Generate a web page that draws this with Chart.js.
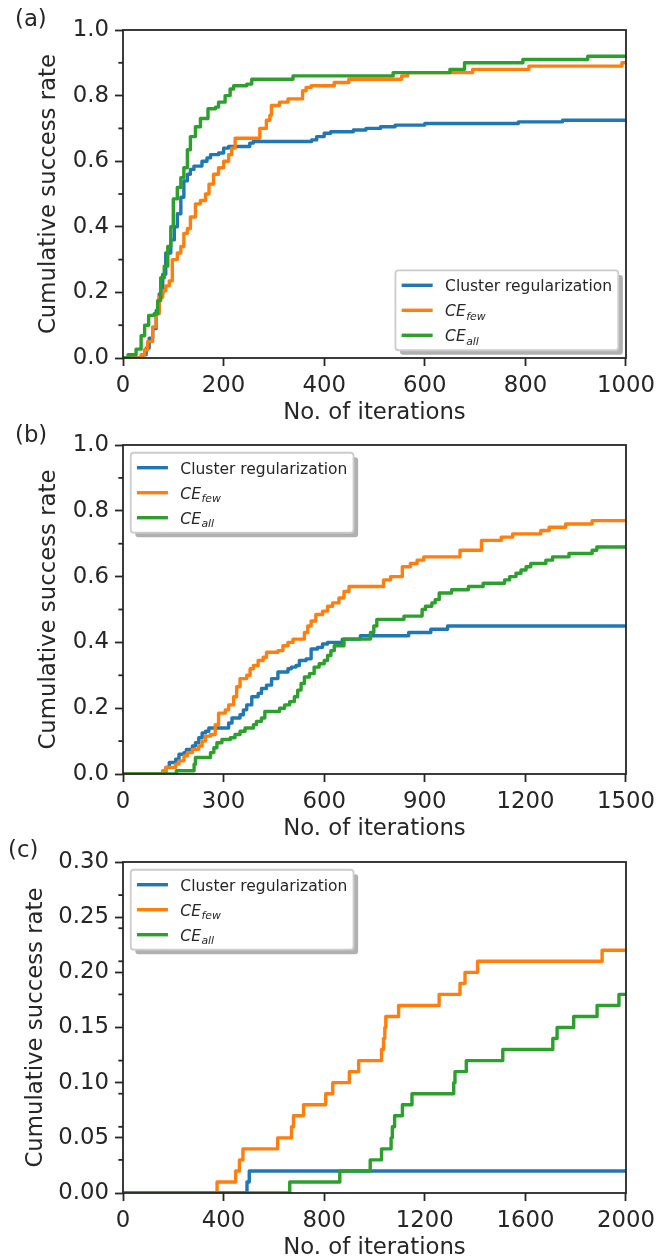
<!DOCTYPE html>
<html><head><meta charset="utf-8">
<script src="https://cdn.jsdelivr.net/npm/chart.js@4.4.0/dist/chart.umd.min.js"></script>
<style>
html,body{margin:0;padding:0;background:#fff;}
#wrap{position:relative;width:661px;height:1256px;overflow:hidden;background:#fff;}
canvas{position:absolute;left:0;}
</style></head><body>
<div id="wrap">
<canvas id="ca" width="661" height="440" style="top:0px;width:661px;height:440px"></canvas>
<canvas id="cb" width="661" height="440" style="top:420px;width:661px;height:440px"></canvas>
<canvas id="cc" width="661" height="440" style="top:835px;width:661px;height:440px"></canvas>
</div>
<script>
// ---------- data ----------
const seriesNames = ['Cluster regularization', 'CE', 'CE'];
const seriesSubs  = ['', 'few', 'all'];
const seriesColors = ['#1f77b4', '#ff7f0e', '#2ca02c'];
const xTitle = 'No. of iterations';
const yTitle = 'Cumulative success rate';
const panelNames = ['(a)', '(b)', '(c)'];

// panel (a)
const aXTicks = [0, 200, 400, 600, 800, 1000];
const aYTicks = [0, 0.2, 0.4, 0.6, 0.8, 1.0];
const aYMinor = [0.1, 0.3, 0.5, 0.7, 0.9];
const aBlueX = [0, 33, 39, 46, 52, 59, 66, 72, 79, 85, 95, 102, 108, 115, 121, 128, 134, 141, 157, 167, 174, 190, 200, 210, 252, 259, 375, 385, 400, 413, 458, 483, 512, 541, 600, 786, 874, 1000];
const aBlueY = [0, 0, 0.01, 0.03, 0.06, 0.09, 0.145, 0.195, 0.255, 0.32, 0.36, 0.40, 0.44, 0.49, 0.54, 0.56, 0.575, 0.585, 0.60, 0.61, 0.62, 0.625, 0.64, 0.645, 0.655, 0.66, 0.665, 0.675, 0.685, 0.69, 0.695, 0.70, 0.705, 0.71, 0.715, 0.72, 0.725, 0.725];
const aOrangeX = [0, 26, 36, 43, 49, 59, 66, 72, 79, 85, 92, 98, 108, 115, 121, 128, 134, 144, 154, 164, 171, 180, 190, 200, 210, 216, 223, 272, 285, 292, 295, 311, 328, 357, 364, 374, 420, 449, 554, 566, 695, 807, 992, 1000];
const aOrangeY = [0, 0, 0.01, 0.025, 0.05, 0.095, 0.135, 0.185, 0.205, 0.22, 0.235, 0.30, 0.32, 0.34, 0.38, 0.395, 0.43, 0.47, 0.48, 0.50, 0.53, 0.56, 0.58, 0.60, 0.62, 0.64, 0.67, 0.70, 0.725, 0.74, 0.77, 0.78, 0.79, 0.815, 0.825, 0.83, 0.84, 0.85, 0.86, 0.87, 0.88, 0.89, 0.90, 0.90];
const aGreenX = [0, 10, 26, 36, 43, 51, 62, 69, 75, 82, 89, 95, 100, 108, 115, 121, 128, 134, 144, 154, 169, 184, 190, 203, 213, 220, 246, 256, 338, 537, 650, 679, 795, 924, 1000];
const aGreenY = [0, 0.01, 0.027, 0.068, 0.10, 0.13, 0.135, 0.175, 0.245, 0.28, 0.34, 0.40, 0.485, 0.52, 0.55, 0.58, 0.635, 0.675, 0.705, 0.73, 0.76, 0.765, 0.78, 0.80, 0.82, 0.83, 0.835, 0.85, 0.86, 0.87, 0.88, 0.90, 0.91, 0.92, 0.92];

// panel (b)
const bXTicks = [0, 300, 600, 900, 1200, 1500];
const bYTicks = [0, 0.2, 0.4, 0.6, 0.8, 1.0];
const bYMinor = [0.1, 0.3, 0.5, 0.7, 0.9];
const bBlueX = [0, 128, 138, 157, 167, 182, 189, 207, 216, 226, 236, 246, 256, 315, 325, 349, 359, 369, 384, 403, 413, 428, 443, 462, 492, 502, 516, 526, 546, 561, 580, 595, 610, 654, 708, 852, 918, 968, 1500];
const bBlueY = [0, 0.02, 0.035, 0.045, 0.06, 0.065, 0.075, 0.085, 0.095, 0.11, 0.125, 0.13, 0.14, 0.155, 0.17, 0.18, 0.195, 0.21, 0.235, 0.245, 0.26, 0.27, 0.29, 0.31, 0.32, 0.325, 0.33, 0.345, 0.35, 0.38, 0.385, 0.395, 0.40, 0.41, 0.42, 0.43, 0.44, 0.45, 0.45];
const bOrangeX = [0, 118, 128, 157, 167, 182, 192, 207, 226, 236, 246, 261, 275, 285, 305, 315, 330, 339, 349, 369, 379, 389, 403, 418, 428, 462, 477, 492, 507, 541, 551, 561, 575, 595, 610, 625, 644, 659, 674, 777, 798, 833, 857, 877, 897, 1005, 1069, 1128, 1162, 1246, 1271, 1320, 1399, 1500];
const bOrangeY = [0, 0.01, 0.02, 0.03, 0.04, 0.055, 0.065, 0.075, 0.085, 0.10, 0.115, 0.12, 0.15, 0.185, 0.195, 0.21, 0.235, 0.265, 0.29, 0.30, 0.32, 0.33, 0.345, 0.355, 0.37, 0.375, 0.39, 0.40, 0.41, 0.43, 0.45, 0.465, 0.485, 0.495, 0.51, 0.52, 0.535, 0.555, 0.57, 0.59, 0.60, 0.63, 0.64, 0.65, 0.66, 0.68, 0.71, 0.72, 0.73, 0.74, 0.75, 0.76, 0.77, 0.77];
const bGreenX = [0, 159, 212, 216, 261, 271, 280, 295, 320, 334, 349, 364, 389, 398, 413, 423, 467, 482, 497, 511, 521, 531, 541, 556, 570, 585, 600, 610, 620, 630, 659, 738, 748, 757, 838, 892, 902, 921, 931, 943, 980, 1030, 1074, 1138, 1153, 1172, 1187, 1202, 1216, 1261, 1281, 1330, 1399, 1413, 1500];
const bGreenY = [0, 0.01, 0.03, 0.05, 0.065, 0.08, 0.095, 0.105, 0.11, 0.12, 0.13, 0.14, 0.15, 0.16, 0.17, 0.19, 0.20, 0.21, 0.22, 0.235, 0.255, 0.275, 0.295, 0.305, 0.325, 0.335, 0.345, 0.36, 0.375, 0.39, 0.41, 0.43, 0.45, 0.47, 0.48, 0.50, 0.51, 0.52, 0.53, 0.55, 0.56, 0.57, 0.58, 0.59, 0.60, 0.61, 0.62, 0.63, 0.64, 0.65, 0.66, 0.67, 0.68, 0.69, 0.69];

// panel (c)
const cXTicks = [0, 400, 800, 1200, 1600, 2000];
const cYTicks = [0, 0.05, 0.10, 0.15, 0.20, 0.25, 0.30];
const cYMinor = [0.03, 0.06, 0.09, 0.12, 0.18, 0.21, 0.24, 0.27];
const cBlueX = [0, 493, 502, 2000];
const cBlueY = [0, 0.01, 0.02, 0.02];
const cOrangeX = [0, 374, 448, 463, 477, 615, 670, 678, 718, 806, 834, 900, 937, 1028, 1036, 1041, 1045, 1096, 1257, 1340, 1360, 1410, 1905, 2000];
const cOrangeY = [0, 0.01, 0.02, 0.03, 0.04, 0.05, 0.06, 0.07, 0.08, 0.09, 0.10, 0.11, 0.12, 0.13, 0.14, 0.15, 0.16, 0.17, 0.18, 0.19, 0.20, 0.21, 0.22, 0.22];
const cGreenX = [0, 663, 862, 983, 1028, 1066, 1071, 1080, 1111, 1149, 1315, 1320, 1365, 1510, 1709, 1726, 1792, 1885, 1972, 2000];
const cGreenY = [0, 0.01, 0.02, 0.03, 0.04, 0.05, 0.06, 0.07, 0.08, 0.09, 0.10, 0.11, 0.12, 0.13, 0.14, 0.15, 0.16, 0.17, 0.18, 0.18];

// ---------- drawing ----------
const FONT = "'DejaVu Sans', sans-serif";
const INK = '#262626';
const FS = 22.8;      // 10pt
const LFS = 15.5;     // legend font
const LW = 3.4;

function pts(xs, ys) { return xs.map((x, i) => ({ x: x, y: ys[i] })); }

const framePlugin = {
  id: 'frame',
  afterDatasetsDraw(chart, args, o) {
    const ctx = chart.ctx, a = chart.chartArea, sc = chart.scales.y;
    ctx.save();
    ctx.strokeStyle = INK; ctx.lineWidth = 1.8;
    (o.minorY || []).forEach(v => {
      const p = sc.getPixelForValue(v);
      ctx.beginPath(); ctx.moveTo(a.left - 4.6, p); ctx.lineTo(a.left, p); ctx.stroke();
    });
    ctx.strokeRect(a.left, a.top, a.right - a.left, a.bottom - a.top);
    ctx.restore();
  }
};

function labelWidth(ctx, name, sub) {
  if (!sub) { ctx.font = `${LFS}px ${FONT}`; return ctx.measureText(name).width; }
  ctx.font = `italic ${LFS}px ${FONT}`; const w1 = ctx.measureText(name).width;
  ctx.font = `italic ${LFS * 0.7}px ${FONT}`; const w2 = ctx.measureText(sub).width;
  return w1 + w2 + 1;
}
function drawLabel(ctx, name, sub, x, cy) {
  ctx.fillStyle = INK; ctx.textBaseline = 'alphabetic'; ctx.textAlign = 'left';
  const base = cy + 6;
  if (!sub) { ctx.font = `${LFS}px ${FONT}`; ctx.fillText(name, x, base); return; }
  ctx.font = `italic ${LFS}px ${FONT}`; ctx.fillText(name, x, base);
  const w1 = ctx.measureText(name).width;
  ctx.font = `italic ${LFS * 0.7}px ${FONT}`; ctx.fillText(sub, x + w1 + 0.5, base + 3.5);
}

const legendPlugin = {
  id: 'mplLegend',
  afterDraw(chart, args, o) {
    const ctx = chart.ctx, a = chart.chartArea;
    const bpad = 0.4 * LFS, hl = 2 * LFS, htp = 0.8 * LFS, axpad = 0.5 * LFS;
    const rowH = 17.5, pitch = 25;
    ctx.save();
    const tw = Math.max(...seriesNames.map((n, i) => labelWidth(ctx, n, seriesSubs[i])));
    const W = 2 * bpad + hl + htp + tw;
    const H = 2 * bpad + 3 * rowH + 2 * (pitch - rowH);
    let left, top;
    if (o.loc === 'lower right') { left = a.right - axpad - W; top = a.bottom - axpad - H; }
    else { left = a.left + axpad; top = a.top + axpad; }
    const sh = 4.6;
    ctx.beginPath(); ctx.roundRect(left + sh, top + sh, W, H, 3);
    ctx.fillStyle = '#b0b0b0'; ctx.fill();
    ctx.beginPath(); ctx.roundRect(left, top, W, H, 3);
    ctx.fillStyle = '#ffffff'; ctx.fill();
    ctx.strokeStyle = '#cccccc'; ctx.lineWidth = 1.8; ctx.stroke();
    for (let i = 0; i < seriesNames.length; i++) {
      const cy = top + bpad + rowH / 2 + i * pitch;
      ctx.beginPath(); ctx.strokeStyle = seriesColors[i]; ctx.lineWidth = LW;
      ctx.moveTo(left + bpad, cy); ctx.lineTo(left + bpad + hl, cy); ctx.stroke();
      drawLabel(ctx, seriesNames[i], seriesSubs[i], left + bpad + hl + htp, cy);
    }
    ctx.restore();
  }
};

const panelLabelPlugin = {
  id: 'panelLabel',
  afterDraw(chart, args, o) {
    const ctx = chart.ctx;
    ctx.save();
    ctx.font = `${FS}px ${FONT}`; ctx.fillStyle = INK;
    ctx.textBaseline = 'middle'; ctx.textAlign = 'left';
    ctx.fillText(o.text, o.x, o.y);
    ctx.restore();
  }
};

function makePanel(id, cfg) {
  const H = 440;
  const ds = [
    { data: pts(cfg.bx, cfg.by), borderColor: seriesColors[0], order: 3 },
    { data: pts(cfg.ox, cfg.oy), borderColor: seriesColors[1], order: 2 },
    { data: pts(cfg.gx, cfg.gy), borderColor: seriesColors[2], order: 1 }
  ].map(d => Object.assign(d, { borderWidth: LW, pointRadius: 0, stepped: true, fill: false, tension: 0, borderJoinStyle: 'round', borderCapStyle: 'butt' }));
  const xt = cfg.xTicks, yt = cfg.yTicks;
  return new Chart(document.getElementById(id), {
    type: 'line',
    data: { datasets: ds },
    plugins: [framePlugin, legendPlugin, panelLabelPlugin],
    options: {
      responsive: false, maintainAspectRatio: false, animation: false, devicePixelRatio: 1,
      layout: { padding: { top: cfg.top, right: 30, left: 0, bottom: 0 } },
      plugins: {
        legend: { display: false }, tooltip: { enabled: false },
        frame: { minorY: cfg.minorY },
        mplLegend: { loc: cfg.legendLoc },
        panelLabel: { text: cfg.label, x: cfg.labelX, y: cfg.labelY }
      },
      scales: {
        x: {
          type: 'linear', min: xt[0], max: xt[xt.length - 1],
          afterBuildTicks: s => { s.ticks = xt.map(v => ({ value: v })); },
          ticks: { autoSkip: false, maxRotation: 0, padding: 6, color: INK, font: { family: FONT, size: FS }, callback: v => String(v) },
          grid: { display: true, drawOnChartArea: false, drawTicks: true, tickLength: 8, tickWidth: 1.8, tickColor: INK, color: INK },
          border: { display: false },
          title: { display: true, text: xTitle, color: INK, font: { family: FONT, size: FS, lineHeight: 1.2 }, padding: { top: 0, bottom: H - (cfg.top + cfg.plotH) - cfg.xTitleOff - FS * 0.6 } },
          afterFit: s => { s.height = H - cfg.top - cfg.plotH; }
        },
        y: {
          type: 'linear', min: yt[0], max: yt[yt.length - 1],
          afterBuildTicks: s => { s.ticks = yt.map(v => ({ value: v })); },
          ticks: { autoSkip: false, padding: 6, color: INK, font: { family: FONT, size: FS }, callback: v => v.toFixed(cfg.dec) },
          grid: { display: true, drawOnChartArea: false, drawTicks: true, tickLength: 8, tickWidth: 1.8, tickColor: INK, color: INK },
          border: { display: false },
          title: { display: true, text: yTitle, color: INK, font: { family: FONT, size: FS, lineHeight: 1.2 }, padding: { top: cfg.yTitleX - FS * 0.6, bottom: 0 } },
          afterFit: s => { s.width = 123; }
        }
      }
    }
  });
}

makePanel('ca', { top: 30, plotH: 328, xTicks: aXTicks, yTicks: aYTicks, minorY: aYMinor, dec: 1,
  bx: aBlueX, by: aBlueY, ox: aOrangeX, oy: aOrangeY, gx: aGreenX, gy: aGreenY,
  legendLoc: 'lower right', label: panelNames[0], labelX: 15, labelY: 20, xTitleOff: 55, yTitleX: 49 });
makePanel('cb', { top: 25, plotH: 329, xTicks: bXTicks, yTicks: bYTicks, minorY: bYMinor, dec: 1,
  bx: bBlueX, by: bBlueY, ox: bOrangeX, oy: bOrangeY, gx: bGreenX, gy: bGreenY,
  legendLoc: 'upper left', label: panelNames[1], labelX: 15, labelY: 16, xTitleOff: 55, yTitleX: 49 });
makePanel('cc', { top: 27, plotH: 331, xTicks: cXTicks, yTicks: cYTicks, minorY: cYMinor, dec: 2,
  bx: cBlueX, by: cBlueY, ox: cOrangeX, oy: cOrangeY, gx: cGreenX, gy: cGreenY,
  legendLoc: 'upper left', label: panelNames[2], labelX: 8, labelY: 16, xTitleOff: 55, yTitleX: 36 });
</script>
</body></html>
